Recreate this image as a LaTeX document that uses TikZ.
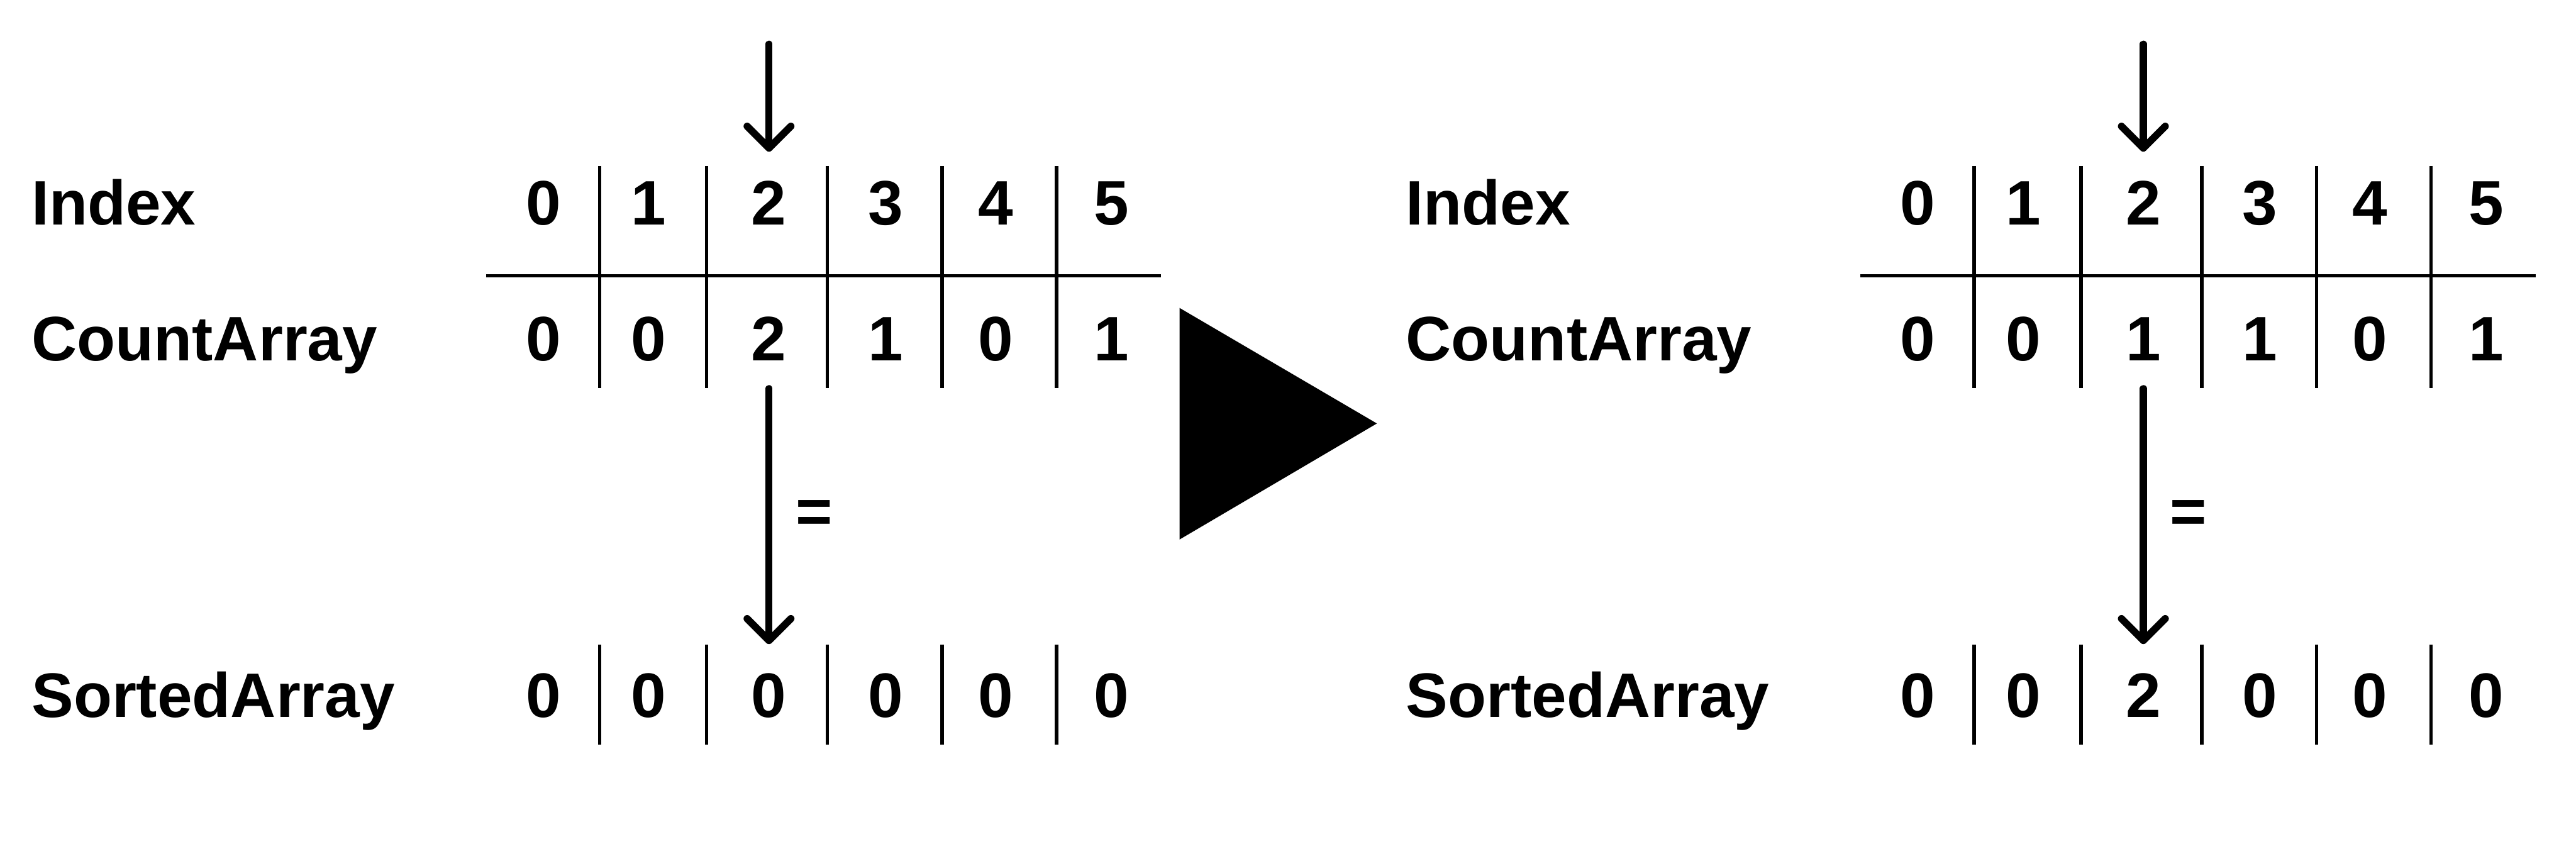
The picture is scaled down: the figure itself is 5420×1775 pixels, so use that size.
\documentclass[tikz,border=0pt]{standalone}
\usepackage{fontspec}
\setmainfont{Liberation Sans}
\usetikzlibrary{arrows.meta,positioning}

\newcommand\cellfont{\bfseries\fontsize{37.6}{45}\selectfont}

\tikzset{
  cell/.style = {
    anchor=base,
    inner xsep=0pt,
    inner ysep=0.58cm,
    text height=0.95cm,
    text depth=0pt,
    font=\cellfont
  },
  rowname/.style = {
    anchor=base west,
    inner sep=0pt,
    font=\cellfont
  },
  divider/.style = {
    line width=2pt
  },
  pointer/.style = {
    line width=4.3pt,
    line cap=round,
    -{Straight Barb[length=0.46cm, width=0.92cm, round]}
  }
}

\begin{document}
\begin{tikzpicture}[x=0.01cm, y=-0.01cm]
\useasboundingbox (0,0) rectangle (5420,1775);

% Zustand vorher
\node[rowname] (Lindex) at (66,473) {Index};
\node[rowname] (Lcount) at (66,759) {CountArray};
\node[rowname] (Lsorted) at (66,1509) {SortedArray};

\foreach \x/\i/\c/\s in {1143/0/0/0, 1365/1/0/0, 1618/2/2/0, 1863/3/1/0, 2095/4/0/0, 2339/5/1/0} {
  \node[cell] (Lidx\i) at (\x,473) {\i};
  \node[cell] (Lcnt\i) at (\x,759) {\c};
  \node[cell] (Lsrt\i) at (\x,1509) {\s};
}

\draw[divider] (1023,580) -- (2443,580);
\foreach \x in {1262,1487,1741,1982,2223} {
  \draw[divider] (\x,349) -- (\x,817);
  \draw[divider] (\x,1356) -- (\x,1567);
}

\coordinate (Ltop) at (1618,93);
\draw[pointer] (Ltop) -- (Lidx2);
\draw[pointer] (Lcnt2) -- (Lsrt2) node[midway, right=0.49cm, inner sep=0pt, font=\cellfont] {=};

% Pfeil dazwischen
\fill (2482,648) -- (2897,891) -- (2482,1135) -- cycle;

% Zustand nachher
\begin{scope}[xshift=28.9cm]
\node[rowname] (Rindex) at (66,473) {Index};
\node[rowname] (Rcount) at (66,759) {CountArray};
\node[rowname] (Rsorted) at (66,1509) {SortedArray};

\foreach \x/\i/\c/\s in {1143/0/0/0, 1365/1/0/0, 1618/2/1/2, 1863/3/1/0, 2095/4/0/0, 2339/5/1/0} {
  \node[cell] (Ridx\i) at (\x,473) {\i};
  \node[cell] (Rcnt\i) at (\x,759) {\c};
  \node[cell] (Rsrt\i) at (\x,1509) {\s};
}

\draw[divider] (1023,580) -- (2443,580);
\foreach \x in {1262,1487,1741,1982,2223} {
  \draw[divider] (\x,349) -- (\x,817);
  \draw[divider] (\x,1356) -- (\x,1567);
}

\coordinate (Rtop) at (1618,93);
\draw[pointer] (Rtop) -- (Ridx2);
\draw[pointer] (Rcnt2) -- (Rsrt2) node[midway, right=0.49cm, inner sep=0pt, font=\cellfont] {=};
\end{scope}

\end{tikzpicture}
\end{document}
